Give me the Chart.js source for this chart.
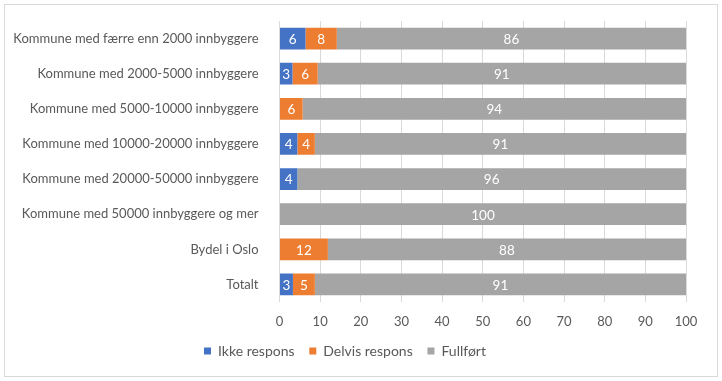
<!DOCTYPE html>
<html>
<head>
<meta charset="utf-8">
<script src="https://cdn.jsdelivr.net/npm/chart.js@4"></script>
<style>
  body { margin: 0; background: #fff; }
  #wrap { position: relative; width: 722px; height: 381px; }
  #frame { position: absolute; left: 4px; top: 4px; width: 712px; height: 371px; border: 1px solid #d9d9d9; }
  canvas { position: absolute; left: 0; top: 0; }
</style>
</head>
<body>
<div id="wrap">
  <div id="frame"></div>
  <canvas id="chart" width="722" height="381"></canvas>
</div>
<script>
const categories = [
  "Kommune med færre enn 2000 innbyggere",
  "Kommune med 2000-5000 innbyggere",
  "Kommune med 5000-10000 innbyggere",
  "Kommune med 10000-20000 innbyggere",
  "Kommune med 20000-50000 innbyggere",
  "Kommune med 50000 innbyggere og mer",
  "Bydel i Oslo",
  "Totalt"
];
const seriesNames = ["Ikke respons", "Delvis respons", "Fullført"];
const ikkeRespons = [6.4, 3.2, 0, 4.4, 4.4, 0, 0, 3.3];
const delvisRespons = [7.7, 6.2, 5.7, 4.3, 0, 0, 11.9, 5.4];
const fullfort = [85.9, 90.6, 94.3, 91.3, 95.6, 100, 88.1, 91.3];
const xTicks = [0, 10, 20, 30, 40, 50, 60, 70, 80, 90, 100];

const fontFamily = "Lato, 'Open Sans', sans-serif";
const textColor = "#595959";

// white value labels in the middle of each segment
const segmentLabels = {
  id: 'segmentLabels',
  afterDatasetsDraw(chart) {
    const ctx = chart.ctx;
    ctx.save();
    ctx.fillStyle = '#fff';
    ctx.font = "13.5px " + fontFamily;
    ctx.textAlign = 'center';
    ctx.textBaseline = 'middle';
    chart.data.datasets.forEach((ds, di) => {
      const meta = chart.getDatasetMeta(di);
      meta.data.forEach((bar, i) => {
        const v = ds.data[i];
        if (!v) return;
        const x = (bar.x + bar.base) / 2;
        ctx.fillText(Math.round(v), x, bar.y + 1);
      });
    });
    ctx.restore();
  }
};

new Chart(document.getElementById('chart'), {
  type: 'bar',
  data: {
    labels: categories,
    datasets: [
      // trailing spaces widen the gap between legend items
      { label: seriesNames[0] + '   ', data: ikkeRespons, backgroundColor: '#4472C4' },
      { label: seriesNames[1] + '   ', data: delvisRespons, backgroundColor: '#ED7D31' },
      { label: seriesNames[2], data: fullfort, backgroundColor: '#A5A5A5' }
    ]
  },
  options: {
    indexAxis: 'y',
    responsive: false,
    animation: false,
    categoryPercentage: 0.62,
    barPercentage: 1,
    layout: { padding: { left: 4, right: 36, top: 21, bottom: 13 } },
    scales: {
      x: {
        stacked: true,
        min: 0,
        max: 100,
        afterBuildTicks(scale) {
          scale.ticks = xTicks.map(v => ({ value: v }));
        },
        afterFit(scale) { scale.height = 38; },
        grid: { color: '#d9d9d9', drawTicks: false },
        border: { display: false },
        ticks: { color: textColor, font: { family: fontFamily, size: 13 }, padding: 12 }
      },
      y: {
        stacked: true,
        afterFit(scale) { scale.width = 275.5; },
        grid: { display: false },
        border: { display: false },
        ticks: { color: textColor, font: { family: fontFamily, size: 13 }, padding: 13 }
      }
    },
    plugins: {
      legend: {
        position: 'bottom',
        labels: {
          color: textColor,
          font: { family: fontFamily, size: 14 },
          boxWidth: 7,
          boxHeight: 7,
          padding: 4
        }
      },
      tooltip: { enabled: false }
    }
  },
  plugins: [segmentLabels]
});
</script>
</body>
</html>
